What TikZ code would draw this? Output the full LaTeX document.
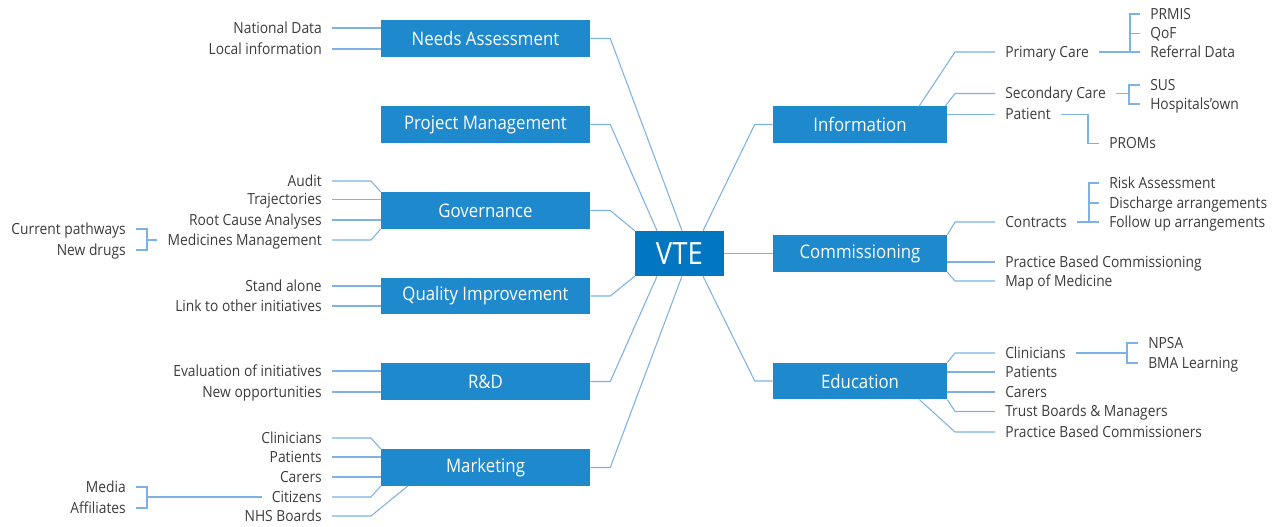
\documentclass[tikz,border=0pt]{standalone}
\usepackage{fontspec}
\setmainfont{Open Sans}[FakeStretch=0.9]
\usetikzlibrary{calc}

\definecolor{boxblue}{RGB}{30,137,204}
\definecolor{vteblue}{RGB}{0,119,192}
\definecolor{linkblue}{RGB}{125,178,228}
\definecolor{labelgrey}{RGB}{60,60,60}

\tikzset{
  catbox/.style={fill=boxblue, text=white, inner sep=0pt, minimum height=27.4pt, font=\fontsize{14}{16}\selectfont},
  leftbox/.style={catbox, minimum width=156.75pt},
  rightbox/.style={catbox, minimum width=130.5pt},
  leaf/.style={text=labelgrey, inner xsep=7.5pt, inner ysep=0pt, text height=0.98em, text depth=0.22em, font=\fontsize{11.5}{13}\selectfont},
  lleaf/.style={leaf, anchor=east},
  rleaf/.style={leaf, anchor=west},
  link/.style={draw=linkblue, line width=0.8pt},
}

\begin{document}
\begin{tikzpicture}[x=0.75pt,y=0.75pt,yscale=-1,xscale=1]
\useasboundingbox (0,0) rectangle (1277,527);

%Shape: centre
\node [fill=vteblue, text=white, inner sep=0pt, minimum width=66.75pt, minimum height=33.75pt, font=\fontsize{23}{26}\selectfont] (vte) at (679.5,253.5) {VTE};

%Shape: left boxes
\node [leftbox] (needs) at (485.5,38.5) {Needs Assessment};
\node [leftbox] (projm) at (485.5,124.5) {Project Management};
\node [leftbox] (gov) at (485.5,210.5) {Governance};
\node [leftbox] (qualimp) at (485.5,296) {Quality Improvement};
\node [leftbox] (rnd) at (485.5,381.5) {R\&D};
\node [leftbox] (mkt) at (485.5,467.5) {Marketing};

%Shape: right boxes
\node [rightbox] (info) at (860,124.5) {Information};
\node [rightbox] (comm) at (860,253.5) {Commissioning};
\node [rightbox] (edu) at (860,381) {Education};

% Connection: boxes to centre
\draw [link] (needs.east) -- ++(20,0) -- ($(vte.north)+(2.5,0)$);
\draw [link] (projm.east) -- ++(20,0) -- ($(vte.north)+(-22.5,0)$);
\draw [link] (gov.east) -- ++(20,0) -- (vte.north west);
\draw [link] (qualimp.east) -- ++(20,0) -- (vte.south west);
\draw [link] (rnd.east) -- ++(20,0) -- ($(vte.south)+(-22.5,0)$);
\draw [link] (mkt.east) -- ++(20,0) -- ($(vte.south)+(2.5,0)$);
\draw [link] (info.west) -- ++(-18,0) -- ($(vte.north)+(23.5,0)$);
\draw [link] (vte.east) -- (comm.west);
\draw [link] (edu.west) -- ++(-18,0) -- ($(vte.south)+(23.5,0)$);

% Text Node: Needs Assessment
\node [lleaf] (natdata) at (332,28) {National Data};
\node [lleaf] (locinfo) at (332,49) {Local information};
\draw [link] (natdata.east) -- (natdata.east -| needs.west);
\draw [link] (locinfo.east) -- (locinfo.east -| needs.west);

% Text Node: Governance
\node [lleaf] (audit) at (332,181) {Audit};
\node [lleaf] (traject) at (332,199.5) {Trajectories};
\node [lleaf] (rootcause) at (332,220) {Root Cause Analyses};
\node [lleaf] (medman) at (332,240) {Medicines Management};
\node [lleaf] (curpath) at (136,229) {Current pathways};
\node [lleaf] (newdrugs) at (136,250) {New drugs};
\coordinate (medfork) at (147,240);
\draw [link] (audit.east) -- ++(39,0) -- (gov.north west);
\draw [link] (traject.east) -- (traject.east -| gov.west);
\draw [link] (rootcause.east) -- (rootcause.east -| gov.west);
\draw [link] (medman.east) -- ++(39,0) -- (gov.south west);
\draw [link] (medman.west) -- (medfork);
\draw [link] (curpath.east) -| (medfork);
\draw [link] (newdrugs.east) -| (medfork);

% Text Node: Quality Improvement
\node [lleaf] (standalone) at (332,286) {Stand alone};
\node [lleaf] (linkinit) at (332,306) {Link to other initiatives};
\draw [link] (standalone.east) -- (standalone.east -| qualimp.west);
\draw [link] (linkinit.east) -- (linkinit.east -| qualimp.west);

% Text Node: R&D
\node [lleaf] (evalinit) at (332,371) {Evaluation of initiatives};
\node [lleaf] (newopp) at (332,392) {New opportunities};
\draw [link] (evalinit.east) -- (evalinit.east -| rnd.west);
\draw [link] (newopp.east) -- (newopp.east -| rnd.west);

% Text Node: Marketing
\node [lleaf] (mclin) at (332,438) {Clinicians};
\node [lleaf] (mpat) at (332,457) {Patients};
\node [lleaf] (mcarer) at (332,477) {Carers};
\node [lleaf] (mcitiz) at (332,497) {Citizens};
\node [lleaf] (nhsb) at (332,516) {NHS Boards};
\node [lleaf] (media) at (136,487) {Media};
\node [lleaf] (affil) at (136,508) {Affiliates};
\coordinate (citfork) at (147,497);
\draw [link] (mclin.east) -- ++(39,0) -- (mkt.north west);
\draw [link] (mpat.east) -- (mpat.east -| mkt.west);
\draw [link] (mcarer.east) -- (mcarer.east -| mkt.west);
\draw [link] (mcitiz.east) -- ++(39,0) -- (mkt.south west);
\draw [link] (nhsb.east) -- ++(39,0) -- ($(mkt.south west)+(27,0)$);
\draw [link] (mcitiz.west) -- (citfork);
\draw [link] (media.east) -| (citfork);
\draw [link] (affil.east) -| (citfork);

% Text Node: Information
\node [rleaf] (primary) at (995,52) {Primary Care};
\node [rleaf] (secondary) at (995,93.5) {Secondary Care};
\node [rleaf] (patient) at (995,114.5) {Patient};
\node [rleaf] (prmis) at (1140,14) {PRMIS};
\node [rleaf] (qof) at (1140,33.5) {QoF};
\node [rleaf] (referral) at (1140,52) {Referral Data};
\node [rleaf] (sus) at (1140,85) {SUS};
\node [rleaf] (hospown) at (1140,104) {Hospitals’own};
\node [rleaf] (proms) at (1099,143.5) {PROMs};
\coordinate (primfork) at (1130,52);
\coordinate (secfork) at (1129,93.5);
\coordinate (patbend) at (1088,143.5);
\draw [link] (primary.west) -- ++(-40,0) -- ($(info.north east)+(-28,0)$);
\draw [link] (secondary.west) -- ++(-40,0) -- ($(info.north east)+(-2,0)$);
\draw [link] (patient.west) -- (patient.west -| info.east);
\draw [link] (primary.east) -- (primfork);
\draw [link] (prmis.west) -| (primfork);
\draw [link] (qof.west) -| (primfork);
\draw [link] (referral.west) -- (primfork);
\draw [link] (secondary.east) -- (secfork);
\draw [link] (sus.west) -| (secfork);
\draw [link] (hospown.west) -| (secfork);
\draw [link] (patient.east) -| (patbend) -- (proms.west);

% Text Node: Commissioning
\node [rleaf] (contracts) at (995,222) {Contracts};
\node [rleaf] (pbcomm) at (995,262) {Practice Based Commissioning};
\node [rleaf] (mapmed) at (995,281) {Map of Medicine};
\node [rleaf] (riskass) at (1099,183) {Risk Assessment};
\node [rleaf] (discharge) at (1099,203) {Discharge arrangements};
\node [rleaf] (followup) at (1099,222) {Follow up arrangements};
\coordinate (confork) at (1089,222);
\draw [link] (contracts.west) -- ++(-40,0) -- (comm.north east);
\draw [link] (pbcomm.west) -- (pbcomm.west -| comm.east);
\draw [link] (mapmed.west) -- ++(-40,0) -- (comm.south east);
\draw [link] (contracts.east) -- (confork);
\draw [link] (riskass.west) -| (confork);
\draw [link] (discharge.west) -| (confork);
\draw [link] (followup.west) -- (confork);

% Text Node: Education
\node [rleaf] (eclin) at (995,353) {Clinicians};
\node [rleaf] (epat) at (995,372) {Patients};
\node [rleaf] (ecarer) at (995,392) {Carers};
\node [rleaf] (trustb) at (995,411.5) {Trust Boards \& Managers};
\node [rleaf] (pbcs) at (995,432) {Practice Based Commissioners};
\node [rleaf] (npsa) at (1138,343) {NPSA};
\node [rleaf] (bma) at (1138,363) {BMA Learning};
\coordinate (clinfork) at (1127,353);
\draw [link] (eclin.west) -- ++(-40,0) -- (edu.north east);
\draw [link] (epat.west) -- (epat.west -| edu.east);
\draw [link] (ecarer.west) -- (ecarer.west -| edu.east);
\draw [link] (trustb.west) -- ++(-40,0) -- (edu.south east);
\draw [link] (pbcs.west) -- ++(-40,0) -- ($(edu.south east)+(-28,0)$);
\draw [link] (eclin.east) -- (clinfork);
\draw [link] (npsa.west) -| (clinfork);
\draw [link] (bma.west) -| (clinfork);

\end{tikzpicture}
\end{document}
